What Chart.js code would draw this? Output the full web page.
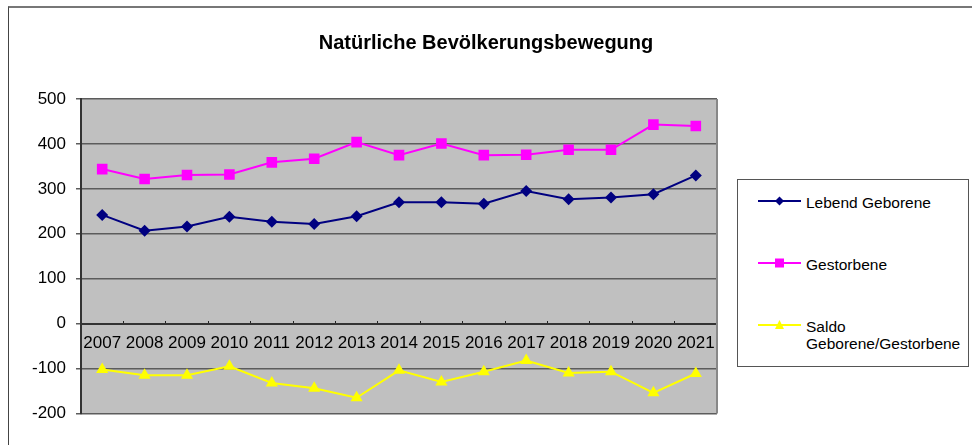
<!DOCTYPE html>
<html lang="de">
<head>
<meta charset="UTF-8">
<title>Natürliche Bevölkerungsbewegung</title>
<script src="https://cdn.jsdelivr.net/npm/chart.js@4.4.1/dist/chart.umd.min.js"></script>
<style>
  body { margin: 0; background: #fff; }
  #wrap { position: relative; width: 972px; height: 445px; overflow: hidden; }
  #frame { position: absolute; left: 8px; top: 6px; width: 990px; height: 470px;
           border: 1px solid #444; border-top: 2px solid #777; }
  #chart { position: absolute; left: 0; top: 0; }
  #legend { position: absolute; left: 737px; top: 179px; width: 230px; height: 186px;
            border: 1px solid #555; background: #fff;
            font: 15.5px "Liberation Sans", Arial, sans-serif; color: #000; }
  #legend .item { position: absolute; left: 20px; display: flex; align-items: flex-start; line-height: 17px; }
  #legend svg { flex: none; margin-right: 5px; }
</style>
</head>
<body>
<div id="wrap">
  <div id="frame"></div>
  <canvas id="chart" width="972" height="445"></canvas>
  <div id="legend"></div>
</div>

<script>
// values
var years = ['2007', '2008', '2009', '2010', '2011', '2012', '2013', '2014',
             '2015', '2016', '2017', '2018', '2019', '2020', '2021'];
var lebendGeborene = [242, 207, 216, 238, 227, 222, 239, 270, 270, 267, 295, 277, 281, 288, 330];
var gestorbene = [344, 322, 331, 332, 359, 367, 404, 375, 401, 375, 376, 387, 387, 443, 440];
var saldo = [-102, -115, -115, -95, -132, -144, -165, -104, -130, -107, -82, -110, -107, -154, -111];
var seriesNames = ['Lebend Geborene', 'Gestorbene', ['Saldo', 'Geborene/Gestorbene']];
var yMin = -200, yMax = 500, yStep = 100;

var font = '"Liberation Sans", Arial, sans-serif';

// grey plot area like the Excel original
var plotBackground = {
    id: 'plotBackground',
    beforeDraw: function (chart) {
        var a = chart.chartArea, ctx = chart.ctx;
        ctx.save();
        ctx.fillStyle = '#c0c0c0';
        ctx.fillRect(a.left, a.top, a.right - a.left, a.bottom - a.top);
        ctx.restore();
    },
    beforeDatasetsDraw: function (chart) {
        var a = chart.chartArea, ctx = chart.ctx;
        ctx.save();
        ctx.strokeStyle = '#888';
        ctx.lineWidth = 2;
        ctx.beginPath();
        ctx.moveTo(a.right, a.top);
        ctx.lineTo(a.right, a.bottom);
        ctx.stroke();
        ctx.restore();
    }
};

// html legend, so the last entry can wrap onto two lines
function markerSvg(ds) {
    var c = ds.borderColor, m = '';
    if (ds.pointStyle === 'rectRot') m = '<polygon points="21.5,2.5 26,7 21.5,11.5 17,7" fill="' + c + '"/>';
    if (ds.pointStyle === 'rect') m = '<rect x="17" y="2.5" width="9" height="9" fill="' + c + '"/>';
    if (ds.pointStyle === 'triangle') m = '<polygon points="21.5,2 26,11 17,11" fill="' + c + '"/>';
    return '<svg width="43" height="14" viewBox="0 0 43 14">' +
        '<line x1="0" y1="7" x2="43" y2="7" stroke="' + c + '" stroke-width="2"/>' + m + '</svg>';
}

var htmlLegend = {
    id: 'htmlLegend',
    afterUpdate: function (chart) {
        var box = document.getElementById('legend');
        box.innerHTML = '';
        chart.data.datasets.forEach(function (ds, i) {
            var item = document.createElement('div');
            item.className = 'item';
            item.style.top = (14 + i * 62) + 'px';
            var lines = [].concat(ds.label);
            item.innerHTML = markerSvg(ds) + '<span>' + lines.join('<br>') + '</span>';
            box.appendChild(item);
        });
    }
};

new Chart(document.getElementById('chart'), {
    type: 'line',
    data: {
        labels: years,
        datasets: [
            {
                label: seriesNames[0],
                data: lebendGeborene,
                borderColor: '#000080',
                backgroundColor: '#000080',
                borderWidth: 2,
                pointStyle: 'rectRot',
                pointRadius: 6,
                pointBorderWidth: 0
            },
            {
                label: seriesNames[1],
                data: gestorbene,
                borderColor: '#ff00ff',
                backgroundColor: '#ff00ff',
                borderWidth: 2,
                pointStyle: 'rect',
                pointRadius: 7.5,
                pointBorderWidth: 0
            },
            {
                label: seriesNames[2],
                data: saldo,
                borderColor: '#ffff00',
                backgroundColor: '#ffff00',
                borderWidth: 2,
                pointStyle: 'triangle',
                pointRadius: 7,
                pointBorderWidth: 0
            }
        ]
    },
    options: {
        responsive: false,
        animation: false,
        layout: { padding: { left: 0, top: 0, right: 0, bottom: 31.5 } },
        plugins: {
            legend: { display: false },
            tooltip: { enabled: false },
            title: {
                display: true,
                text: 'Natürliche Bevölkerungsbewegung',
                color: '#000',
                font: { family: font, size: 20, weight: 'bold', lineHeight: 1.2 },
                padding: { top: 31, bottom: 44 }
            }
        },
        scales: {
            x: {
                type: 'category',
                position: { y: 0 },
                offset: true,
                afterFit: function (s) { s.height = 0; },
                grid: { drawOnChartArea: false, offset: true, tickLength: -4, color: '#222', lineWidth: 1 },
                border: { color: '#333', width: 2 },
                ticks: { color: '#000', padding: 13, maxRotation: 0, autoSkip: false,
                         font: { family: font, size: 17 } }
            },
            y: {
                min: yMin,
                max: yMax,
                afterFit: function (s) { s.width = 81; },
                grid: { color: '#5c5c5c', lineWidth: 1.5, tickLength: 5 },
                border: { color: '#333', width: 2 },
                ticks: { stepSize: yStep, color: '#000', padding: 10,
                         font: { family: font, size: 17 } }
            },
            // empty right-hand axis: keeps room for the legend box
            spacer: {
                type: 'linear',
                position: 'right',
                afterFit: function (s) { s.width = 255; },
                grid: { display: false },
                border: { display: false },
                ticks: { display: false }
            }
        }
    },
    plugins: [plotBackground, htmlLegend]
});
</script>
</body>
</html>
